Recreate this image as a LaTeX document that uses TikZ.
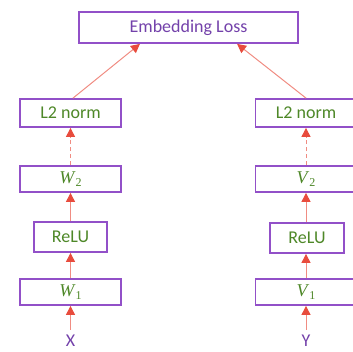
\documentclass[tikz,border=0pt]{standalone}
\usepackage{fontspec}
\setmainfont{Carlito}
\newfontfamily\mathserif{Liberation Serif}
\usetikzlibrary{arrows.meta,calc}
\definecolor{boxpurple}{RGB}{146,80,200}
\definecolor{txtgreen}{RGB}{78,136,40}
\definecolor{txtpurple}{RGB}{115,65,170}
\definecolor{arrline}{RGB}{240,140,130}
\definecolor{arrhead}{RGB}{232,76,61}
\newcommand\myvar[2]{{\mathserif\itshape\fontsize{18}{20}\selectfont #1\/}\raisebox{-3pt}{\mathserif\fontsize{12}{14}\selectfont #2}}
\tikzset{
  blk/.style={draw=boxpurple, line width=1.8pt, fill=white, inner sep=0pt,
    minimum width=101pt, minimum height=26pt, text=txtgreen,
    font=\fontsize{18}{20}\selectfont},
  lossbox/.style={blk, minimum width=219pt, minimum height=31pt, text=txtpurple},
  lbl/.style={inner sep=0pt, text=txtpurple, font=\fontsize{18}{20}\selectfont},
  arr/.style={draw=arrline, line width=1pt,
    -{Triangle[length=9pt,width=9pt,fill=arrhead,color=arrhead]}},
  darr/.style={arr, dash pattern=on 4pt off 3pt}
}
\begin{document}
\begin{tikzpicture}[x=1pt,y=-1pt]
\useasboundingbox (0,0) rectangle (353,351);
\begin{scope}
\clip (0,0) rectangle (353,351);
\node[lossbox] (loss) at (188.5,27.5) {Embedding Loss};
% left column
\node[blk, minimum height=28pt] (l2l) at (70.5,113) {L2 norm};
\node[blk] (w2) at (70.5,179) {\myvar{W}{2}};
\node[blk, minimum width=73pt, minimum height=30pt] (relul) at (70.5,237) {ReLU};
\node[blk] (w1) at (70.5,292) {\myvar{W}{1}};
\node[lbl, anchor=base] (x) at (70.5,346) {X};
% right column
\node[blk, minimum height=28pt] (l2r) at (306,113) {L2 norm};
\node[blk] (v2) at (306,179) {\myvar{V}{2}};
\node[blk, minimum width=74pt, minimum height=30pt] (relur) at (307,238) {ReLU};
\node[blk] (v1) at (306,292) {\myvar{V}{1}};
\node[lbl, anchor=base] (y) at (306,346) {Y};
\coordinate (lossl) at ($(loss.south west)!0.28!(loss.south east)$);
\coordinate (lossr) at ($(loss.south west)!0.72!(loss.south east)$);
\coordinate (xs) at (70.5,330);
\coordinate (ys) at (306,330);
% arrows left
\draw[arr] (xs) -- (w1.south);
\draw[arr] (w1.north) -- (relul.south);
\draw[arr] (relul.north) -- (w2.south);
\draw[darr] (w2.north) -- (l2l.south);
\draw[arr] ($(l2l.north)+(2.5,0)$) -- (lossl);
% arrows right
\draw[arr] (ys) -- (v1.south);
\draw[arr] (v1.north) -- (v1.north |- relur.south);
\draw[arr] (v1.north |- relur.north) -- (v2.south);
\draw[darr] (v2.north) -- (l2r.south);
\draw[arr] (l2r.north) -- (lossr);
\end{scope}
\end{tikzpicture}
\end{document}
